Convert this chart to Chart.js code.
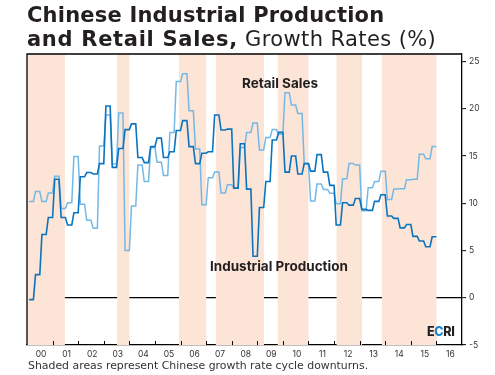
<!DOCTYPE html>
<html>
<head>
<meta charset="utf-8">
<script src="https://cdn.jsdelivr.net/npm/chart.js@4/dist/chart.umd.min.js"></script>
<style>
  html, body { margin: 0; padding: 0; background: #fff; }
  #wrap { position: relative; width: 495px; height: 375px; overflow: hidden; font-family: Inter, "Open Sans", sans-serif; color: #231f20; }
  #c { position: absolute; left: 0; top: 0; }
  .title { position: absolute; left: 27px; top: 4px; font-family: "DejaVu Sans", sans-serif; font-size: 21px; line-height: 23.8px; font-weight: 700; white-space: nowrap; letter-spacing: 0.2px; }
  .title .b2 { letter-spacing: 0.7px; }
  .title .light { font-weight: 400; letter-spacing: 0.4px; }
  .lbl { position: absolute; font-weight: 700; font-size: 13.5px; white-space: nowrap; line-height: 1; }
  .foot { position: absolute; left: 28px; top: 359px; font-family: "DejaVu Sans", sans-serif; font-size: 10.9px; color: #333; white-space: nowrap; }
  .ecri { position: absolute; left: 427px; top: 326px; font-size: 12.5px; font-weight: 800; letter-spacing: -0.3px; line-height: 1; }
  .ecri span { color: #1a86cf; }
</style>
</head>
<body>
<div id="wrap">
  <canvas id="c" width="495" height="375"></canvas>
  <div class="title">Chinese Industrial Production<br><span class="b2">and Retail Sales,</span><span class="light"> Growth Rates (%)</span></div>
  <div class="lbl" style="left:242px; top:77px;">Retail Sales</div>
  <div class="lbl" style="left:210px; top:260px;">Industrial Production</div>
  <div class="ecri">E<span>C</span>RI</div>
  <div class="foot">Shaded areas represent Chinese growth rate cycle downturns.</div>
</div>
<script>
// ---- Data (quarterly growth rates, %, from 2000 Q1 to 2015 Q4) ----
const startYear = 2000;
const industrialProduction = [
  -0.2, 2.45, 6.7, 8.5,      // 2000
  12.55, 8.5, 7.7, 9.0,      // 2001
  12.8, 13.25, 13.1, 14.2,   // 2002
  20.3, 13.8, 15.8, 17.8,    // 2003
  18.4, 14.85, 14.3, 16.0,   // 2004
  16.9, 14.85, 15.45, 17.7,  // 2005
  18.75, 16.0, 14.2, 15.3,   // 2006
  15.45, 19.35, 17.75, 17.85,// 2007
  11.6, 16.3, 11.5, 4.4,     // 2008
  9.55, 12.3, 16.7, 17.5,    // 2009
  13.3, 15.0, 13.1, 14.2,    // 2010
  13.4, 15.15, 13.3, 11.9,   // 2011
  7.7, 10.05, 9.8, 10.5,     // 2012
  9.35, 9.25, 10.2, 10.9,    // 2013
  8.65, 8.4, 7.4, 7.75,      // 2014
  6.5, 6.0, 5.4, 6.45        // 2015
];
const retailSales = [
  10.2, 11.25, 10.2, 11.1,   // 2000
  12.85, 9.45, 10.05, 14.95, // 2001
  9.9, 8.2, 7.35, 16.05,     // 2002
  19.35, 14.15, 19.55, 5.0,  // 2003
  9.7, 14.05, 12.3, 15.9,    // 2004
  14.35, 12.95, 17.5, 22.9,  // 2005
  23.7, 19.8, 15.75, 9.85,   // 2006
  12.7, 13.3, 11.1, 11.95,   // 2007
  11.6, 15.9, 17.5, 18.5,    // 2008
  15.65, 16.95, 17.8, 17.3,  // 2009
  21.7, 20.4, 19.5, 14.2,    // 2010
  10.25, 12.05, 11.45, 11.05,// 2011
  9.95, 12.6, 14.2, 14.05,   // 2012
  9.2, 11.65, 12.3, 13.4,    // 2013
  10.4, 11.5, 11.55, 12.5,   // 2014
  12.55, 15.2, 14.7, 16.0    // 2015
];
// Growth rate cycle downturns (start, end in decimal years)
const downturns = [
  [2000.0, 2001.48], [2003.52, 2004.0], [2005.94, 2007.0],
  [2007.38, 2009.26], [2009.8, 2011.0], [2012.1, 2013.09], [2013.87, 2016.0]
];
const xMin = 2000, xMax = 2017;
const yMin = -5, yMax = 25.8, yStep = 5;

// Each quarterly value is plotted across its quarter's first and last month.
function toPoints(arr) {
  const pts = [];
  arr.forEach((v, i) => {
    const yr = startYear + Math.floor(i / 4), q = i % 4;
    pts.push({ x: yr + (3 * q + 1) / 12, y: v });
    pts.push({ x: yr + (3 * q + 3) / 12, y: v });
  });
  return pts;
}

const shadePlugin = {
  id: 'shade',
  beforeDatasetsDraw(chart) {
    const { ctx, chartArea: a, scales: { x } } = chart;
    ctx.save();
    ctx.fillStyle = '#fce4d6';
    downturns.forEach(([s, e]) => {
      const x0 = x.getPixelForValue(s), x1 = x.getPixelForValue(e);
      ctx.fillRect(x0, a.top, x1 - x0, a.bottom - a.top);
    });
    ctx.restore();
  },
  afterDraw(chart) {
    const { ctx, chartArea: a, scales: { x } } = chart;
    ctx.save();
    ctx.strokeStyle = '#000';
    ctx.lineWidth = 1.3;
    ctx.beginPath();
    ctx.moveTo(a.left, a.bottom); ctx.lineTo(a.left, a.top); ctx.lineTo(a.right, a.top);
    ctx.stroke();
    ctx.lineWidth = 1;
    ctx.beginPath();
    for (let v = xMin + 1; v < xMax; v++) {
      const px = Math.round(x.getPixelForValue(v)) + 0.5;
      ctx.moveTo(px, a.bottom); ctx.lineTo(px, a.bottom - 4);
    }
    ctx.stroke();
    ctx.restore();
  }
};

new Chart(document.getElementById('c'), {
  type: 'line',
  data: {
    datasets: [
      { label: 'Industrial Production', data: toPoints(industrialProduction), borderColor: '#0a74bf', borderWidth: 1.6, pointRadius: 0, tension: 0, order: 0 },
      { label: 'Retail Sales', data: toPoints(retailSales), borderColor: '#74b8e6', borderWidth: 1.5, pointRadius: 0, tension: 0, order: 1 }
    ]
  },
  options: {
    responsive: false,
    animation: false,
    layout: { padding: { left: 27, top: 54, right: 0, bottom: 0 } },
    plugins: { legend: { display: false }, tooltip: { enabled: false }, title: { display: false } },
    scales: {
      x: {
        type: 'linear', min: xMin, max: xMax,
        afterFit(s) { s.height = 30; },
        afterBuildTicks(s) { const t = []; for (let v = xMin; v <= xMax; v++) t.push({ value: v }); s.ticks = t; },
        ticks: {
          autoSkip: false, maxRotation: 0, padding: 4, labelOffset: 14,
          color: '#333', font: { family: 'Inter', size: 8.5 },
          callback: v => v < xMax ? String(v % 100).padStart(2, '0') : ''
        },
        grid: { drawOnChartArea: false, drawTicks: false },
        border: { display: true, color: '#000', width: 1.3 }
      },
      y: {
        position: 'right', min: yMin, max: yMax,
        afterFit(s) { s.width = 33; },
        afterBuildTicks(s) { const t = []; for (let v = yMin; v <= 25; v += yStep) t.push({ value: v }); s.ticks = t; },
        ticks: { padding: 3, color: '#333', font: { family: 'Inter', size: 8.5 } },
        grid: {
          drawOnChartArea: true, tickLength: 4, tickColor: '#000', tickWidth: 1,
          color: c => (c.tick && c.tick.value === 0) ? '#000' : 'rgba(0,0,0,0)',
          lineWidth: 1.3
        },
        border: { display: true, color: '#000', width: 1.3 }
      }
    }
  },
  plugins: [shadePlugin]
});
</script>
</body>
</html>
